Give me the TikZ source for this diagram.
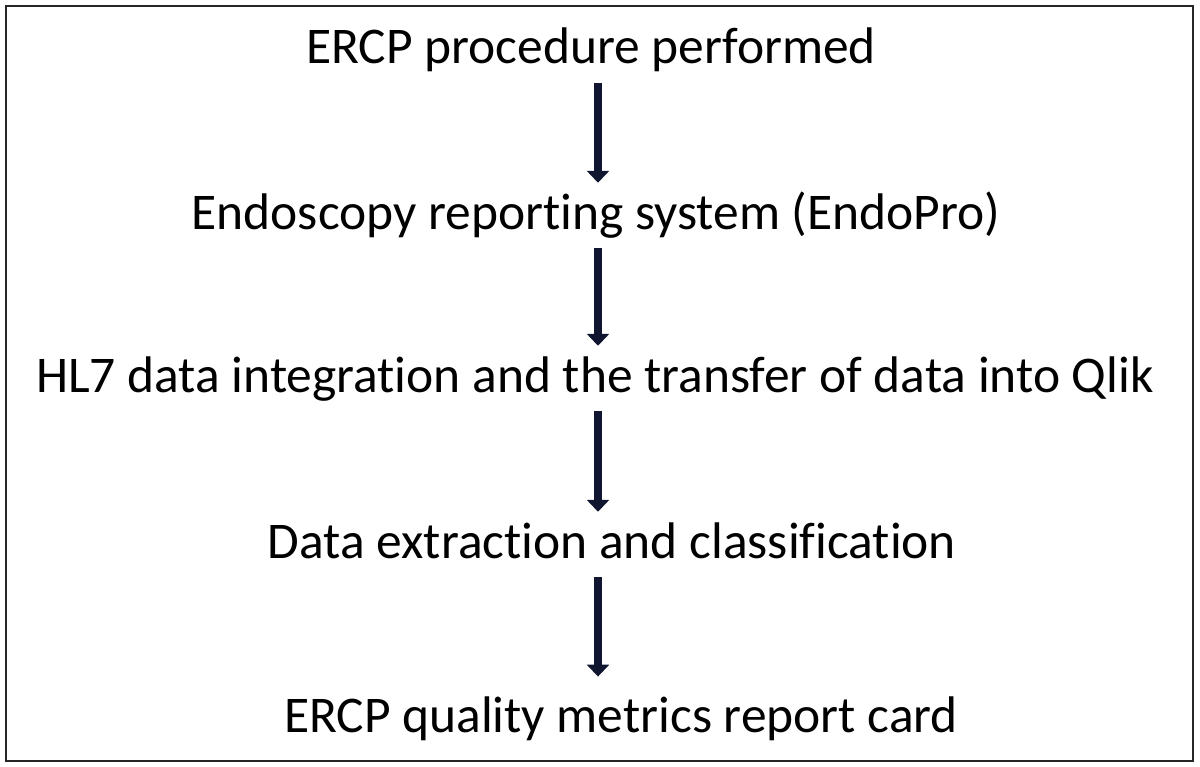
\documentclass[tikz,border=0pt]{standalone}
\usepackage{fontspec}
\setmainfont{Carlito}[Ligatures=NoCommon]
\usetikzlibrary{arrows.meta}
\definecolor{arrowblue}{RGB}{16,22,48}
\tikzset{
  steptext/.style={anchor=base, inner sep=0pt, text height=23pt, text depth=8pt,
    font=\fontsize{36.6}{44}\selectfont},
  flow/.style={arrowblue, line width=5pt, -{Triangle[width=0.55cm, length=0.3cm]},
    shorten <=0.19cm, shorten >=0.34cm}
}
\begin{document}
\begin{tikzpicture}[x=0.025cm, y=-0.025cm]
\useasboundingbox (0,0) rectangle (1200,767);
\draw[line width=1.9pt, black!85] (6,6) rectangle (1193,761);

\node[steptext] (proc) at (591,64) {ERCP procedure performed};
\node[steptext] (endo) at (596,229) {Endoscopy reporting system (EndoPro)};
\node[steptext] (hl7) at (595,392) {HL7 data integration and the transfer of data into Qlik};
\node[steptext] (extr) at (612,558) {Data extraction and classification};
\node[steptext] (card) at (621,732) {ERCP quality metrics report card};

\coordinate (spine) at (598,0);
\draw[flow] (proc.south -| spine) -- (endo.north -| spine);
\draw[flow] (endo.south -| spine) -- (hl7.north -| spine);
\draw[flow] (hl7.south -| spine) -- (extr.north -| spine);
\draw[flow, shorten >=0.57cm] (extr.south -| spine) -- (card.north -| spine);
\end{tikzpicture}
\end{document}
